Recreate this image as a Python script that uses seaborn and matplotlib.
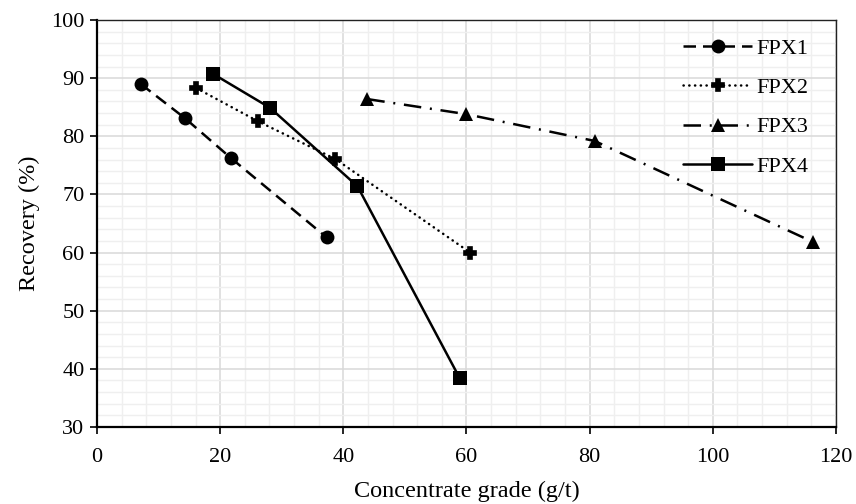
import matplotlib
matplotlib.use("Agg")
import matplotlib.pyplot as plt
import pandas as pd
import seaborn as sns
from matplotlib.ticker import MultipleLocator

# values
fpx1_x = [7.1, 14.3, 21.7, 37.3]
fpx1_y = [89.0, 83.1, 76.3, 62.6]
fpx2_x = [16.1, 26.1, 38.7, 60.6]
fpx2_y = [88.3, 82.6, 76.1, 60.0]
fpx3_x = [43.9, 60.0, 80.8, 116.3]
fpx3_y = [86.4, 83.8, 79.2, 61.8]
fpx4_x = [18.9, 28.1, 42.3, 58.9]
fpx4_y = [90.7, 84.9, 71.4, 38.4]
names = ['FPX1', 'FPX2', 'FPX3', 'FPX4']

series = {
    'FPX1': (fpx1_x, fpx1_y),
    'FPX2': (fpx2_x, fpx2_y),
    'FPX3': (fpx3_x, fpx3_y),
    'FPX4': (fpx4_x, fpx4_y),
}

styles = {
    'FPX1': dict(marker='o', markersize=10, markeredgewidth=0,
                 dashes=(5, 2.8), dash_capstyle='butt'),
    'FPX2': dict(marker='P', markersize=8, markeredgewidth=1.2, markeredgecolor='black',
                 dashes=(0.1, 2.2), dash_capstyle='round'),
    'FPX3': dict(marker='^', markersize=10, markeredgewidth=0,
                 dashes=(7, 3.5, 0.8, 3.5), dash_capstyle='butt'),
    'FPX4': dict(marker='s', markersize=9.5, markeredgewidth=0, linestyle='-'),
}

sns.set_style("white")
plt.rcParams['font.family'] = ['Liberation Serif', 'DejaVu Serif']
plt.rcParams['text.color'] = 'black'
plt.rcParams['axes.labelcolor'] = 'black'

fig = plt.figure(figsize=(8.56, 5.04), dpi=100)
ax = fig.add_axes([0.1133, 0.1528, 0.8633, 0.8075])

for name in names:
    xs, ys = series[name]
    df = pd.DataFrame({'x': xs, 'y': ys})
    sns.lineplot(data=df, x='x', y='y', ax=ax, color='black', linewidth=1.8,
                 sort=False, label=name, **styles[name])

ax.set_xlim(0, 120)
ax.set_ylim(30, 100)
ax.xaxis.set_major_locator(MultipleLocator(20))
ax.xaxis.set_minor_locator(MultipleLocator(4))
ax.yaxis.set_major_locator(MultipleLocator(10))
ax.yaxis.set_minor_locator(MultipleLocator(2))
ax.grid(which='major', color='#d9d9d9', linewidth=1.1)
ax.grid(which='minor', color='#efefef', linewidth=1.0)
ax.set_axisbelow(True)

for side in ['left', 'bottom']:
    ax.spines[side].set_color('black')
    ax.spines[side].set_linewidth(1.6)
for side in ['top', 'right']:
    ax.spines[side].set_color('#222222')
    ax.spines[side].set_linewidth(1.0)

ax.tick_params(which='major', direction='out', length=5, width=1.2, pad=4,
               labelsize=16, left=True, bottom=True, colors='black')
ax.tick_params(axis='x', which='major', pad=10)
ax.tick_params(which='minor', length=0)

ax.set_xlabel('Concentrate grade (g/t)', fontsize=17.5, labelpad=10)
ax.set_ylabel('Recovery (%)', fontsize=17.5, labelpad=8)

ax.legend(loc='upper right', bbox_to_anchor=(0.99, 1.005), frameon=False,
          fontsize=16, handlelength=3.1, handletextpad=0.2, labelspacing=0.85)

fig.savefig('out.png', dpi=100)
